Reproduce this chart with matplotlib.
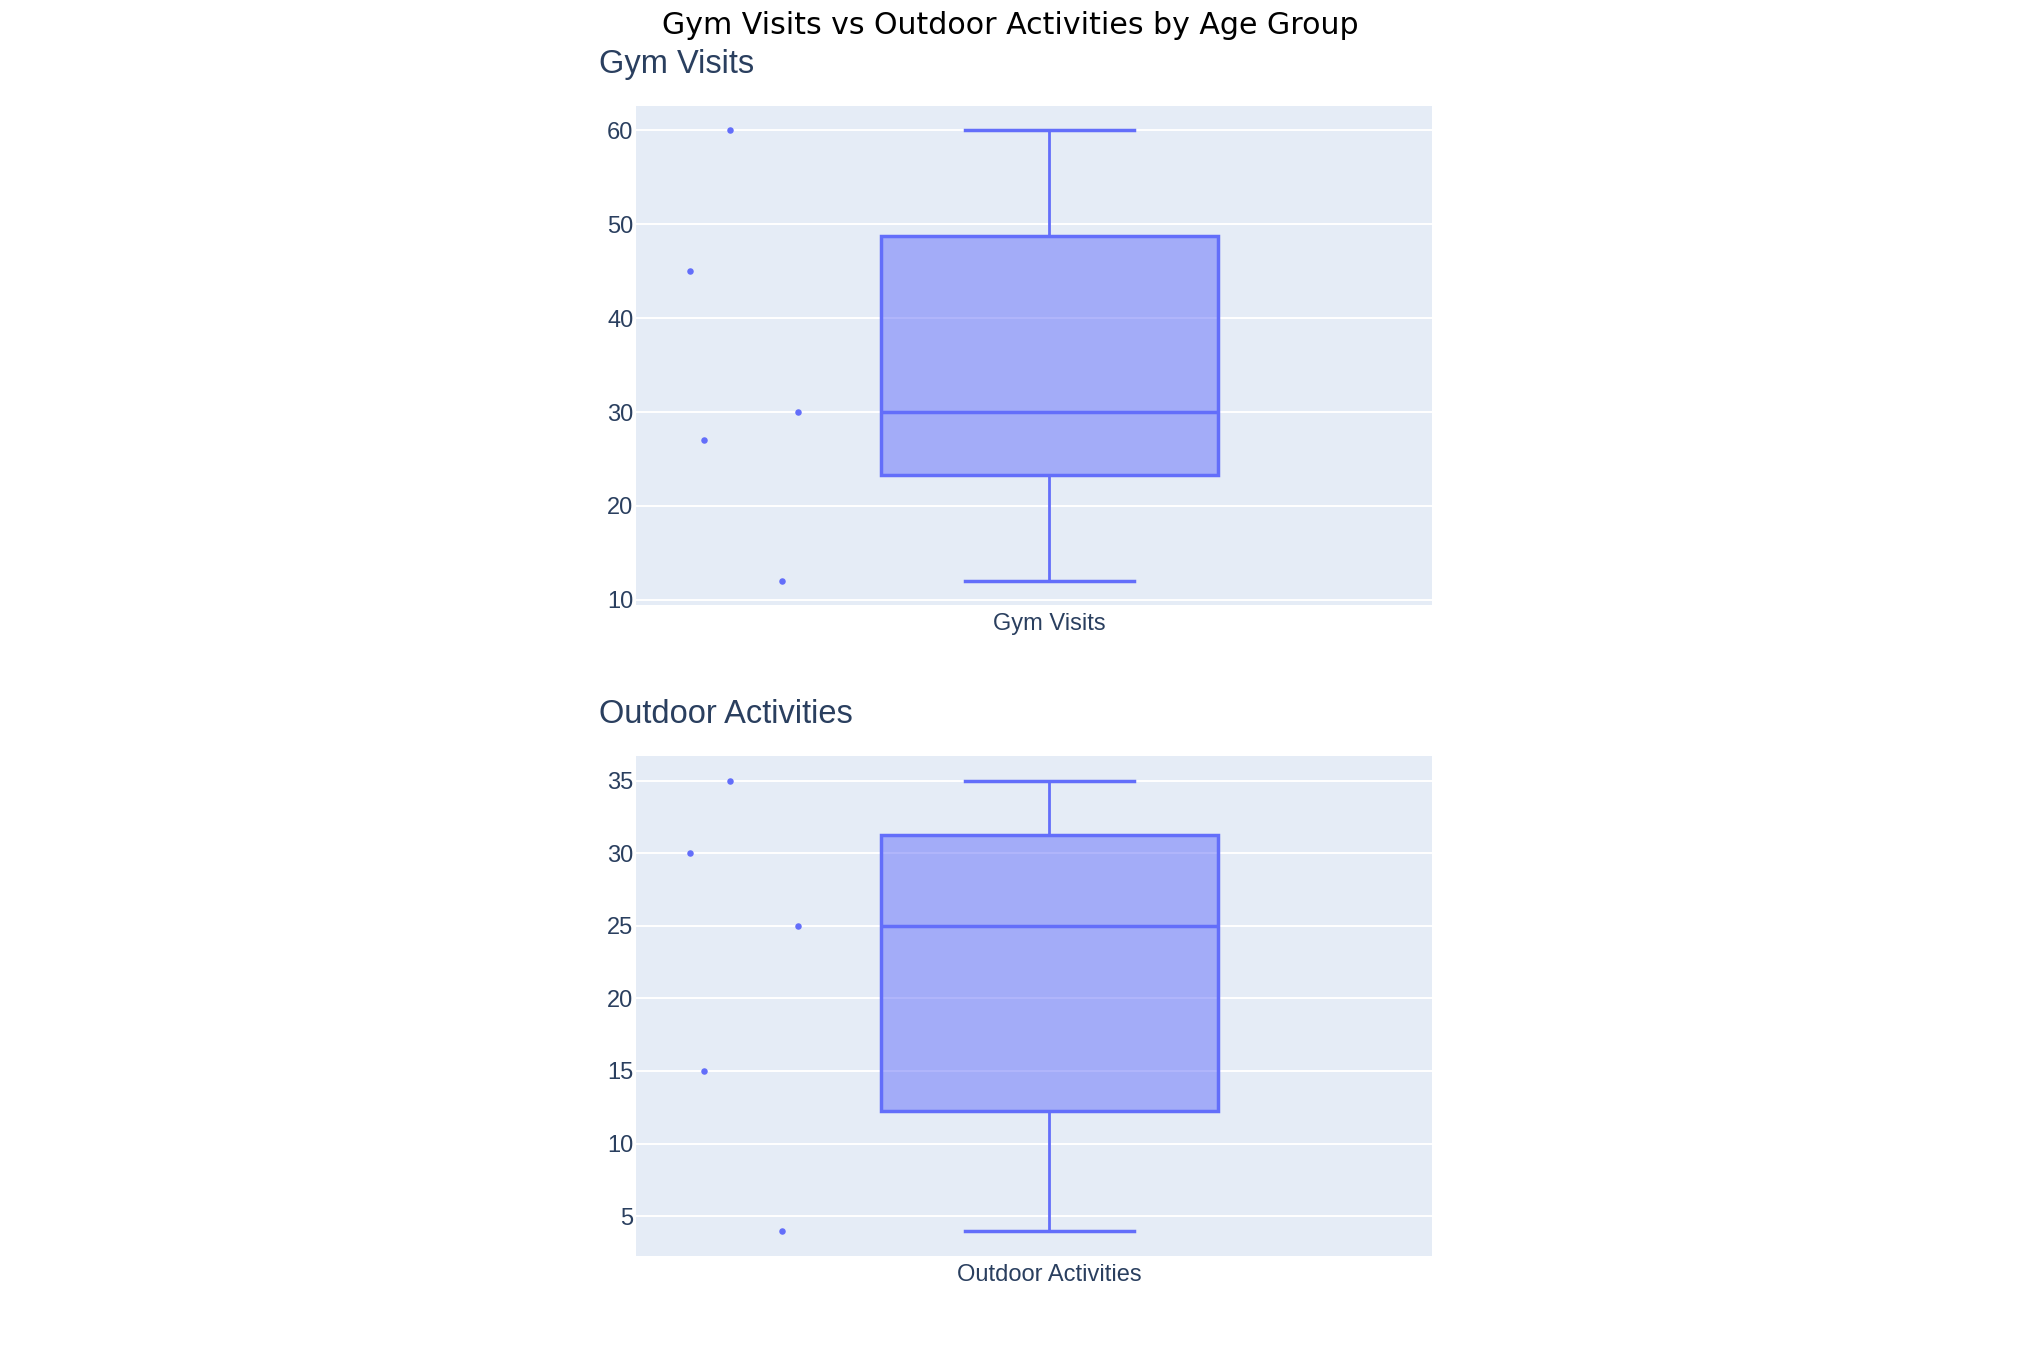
import numpy as np
import matplotlib.pyplot as plt

gym_visits = [45, 27, 60, 12, 30]
outdoor_activities = [30, 15, 35, 4, 25]
panel_titles = ['Gym Visits', 'Outdoor Activities']
jitter = [-1.065, -1.023, -0.947, -0.794, -0.744]

blue = '#636efa'
text_col = '#2a3f5f'
plt.rcParams['font.family'] = ['Liberation Sans', 'DejaVu Sans']


def box_stats(vals, label):
    v = np.array(vals, dtype=float)
    q1, med, q3 = np.percentile(v, [25, 50, 75], method='hazen')
    return {'med': med, 'q1': q1, 'q3': q3, 'whislo': v.min(), 'whishi': v.max(),
            'fliers': [], 'label': label}


fig = plt.figure(figsize=(20.2, 13.51), dpi=100)
fig.text(0.5, 0.981, 'Gym Visits vs Outdoor Activities by Age Group', ha='center', va='center',
         fontsize=21.6, family='DejaVu Sans', color='black')

positions = [[0.3149, 0.5522, 0.394, 0.3693], [0.3149, 0.0703, 0.394, 0.3701]]
ylims = [(9.45, 62.6), (2.25, 36.69)]
yticks = [[10, 20, 30, 40, 50, 60], [5, 10, 15, 20, 25, 30, 35]]

for i, vals in enumerate([gym_visits, outdoor_activities]):
    ax = fig.add_axes(positions[i])
    ax.set_facecolor('#E5ECF6')
    for s in ax.spines.values():
        s.set_visible(False)
    ax.set_axisbelow(True)
    ax.grid(axis='y', color='white', linewidth=1.4)
    ax.bxp([box_stats(vals, panel_titles[i])], positions=[0], widths=1.0, patch_artist=True,
           showfliers=False,
           boxprops=dict(facecolor=(99/255, 110/255, 250/255, 0.5), edgecolor=blue, linewidth=2.5),
           medianprops=dict(color=blue, linewidth=2.5),
           whiskerprops=dict(color=blue, linewidth=2),
           capprops=dict(color=blue, linewidth=2.5), capwidths=0.5)
    ax.scatter(jitter, vals, s=22, color=blue, zorder=3, linewidths=0)
    ax.set_xlim(-1.225, 1.134)
    ax.set_ylim(*ylims[i])
    ax.set_yticks(yticks[i])
    ax.set_xticks([0])
    ax.set_xticklabels([panel_titles[i]])
    ax.tick_params(length=0, labelsize=17, colors=text_col)
    ax.tick_params(axis='y', pad=2)
    ax.tick_params(axis='x', pad=6)
    ax.set_title(panel_titles[i], loc='left', x=-0.046, fontsize=23.5, color=text_col, pad=24)

fig.savefig('out.png', dpi=100)
